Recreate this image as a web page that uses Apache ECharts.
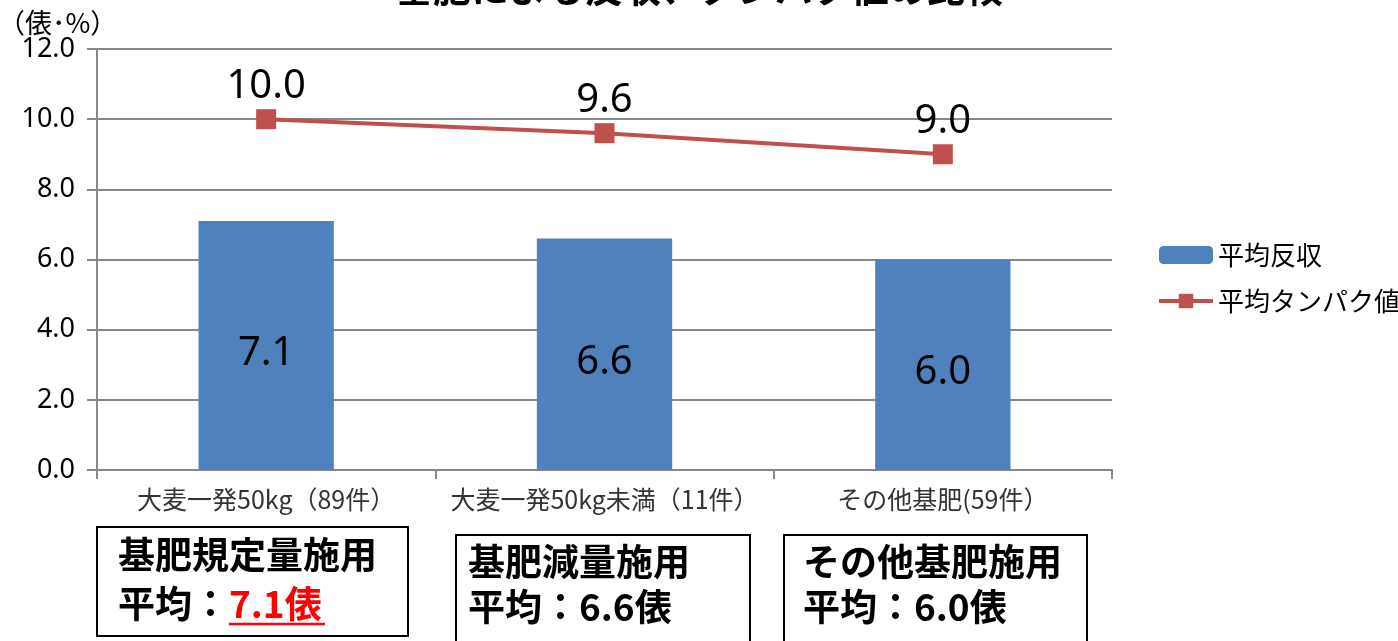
<!DOCTYPE html>
<html>
<head>
<meta charset="utf-8">
<script src="https://cdn.jsdelivr.net/npm/echarts@6/dist/echarts.min.js"></script>
<style>
  html, body { margin: 0; padding: 0; background: #fff; }
  #main { width: 1398px; height: 641px; }
</style>
</head>
<body>
<div id="main"></div>
<script>
const categories = ['大麦一発50kg（89件）', '大麦一発50kg未満（11件）', 'その他基肥(59件）'];
const yieldValues = [7.1, 6.6, 6.0];
const proteinValues = [10.0, 9.6, 9.0];
const seriesNames = ['平均反収', '平均タンパク値'];
const boxTitles = ['基肥規定量施用', '基肥減量施用', 'その他基肥施用'];
const boxAverages = ['7.1俵', '6.6俵', '6.0俵'];

const cjk = '"Noto Sans CJK JP", "Noto Sans", sans-serif';
const num = '"Noto Sans", "Open Sans", sans-serif';

const chartDom = document.getElementById('main');
const myChart = echarts.init(chartDom);

// boxes under the chart
const boxes = [
    { x: 97, y: 527, w: 311, h: 109, tx: 118, ty1: 555, ty2: 604 },
    { x: 456, y: 535, w: 294, h: 120, tx: 468, ty1: 562, ty2: 607 },
    { x: 784, y: 535, w: 303, h: 120, tx: 803, ty1: 562, ty2: 607 }
];

const graphics = [
    {
        type: 'text', left: 'center', top: -31,
        style: { text: '基肥による反収、タンパク値の比較', font: 'bold 38px ' + cjk, fill: '#000' }
    },
    {
        type: 'text', left: -2, top: 9,
        style: { text: '（俵･%）', font: '27px ' + cjk, fill: '#000' }
    }
];

boxes.forEach((b, i) => {
    graphics.push({
        type: 'rect',
        shape: { x: b.x, y: b.y, width: b.w, height: b.h },
        style: { fill: '#fff', stroke: '#000', lineWidth: 2 }
    });
    graphics.push({
        type: 'text', x: b.tx, y: b.ty1,
        style: { text: boxTitles[i], font: 'bold 37px ' + cjk, fill: '#000', verticalAlign: 'middle' }
    });
    graphics.push({
        type: 'text', x: b.tx, y: b.ty2,
        style: {
            text: '平均：{v|' + boxAverages[i] + '}',
            font: 'bold 37px ' + cjk, fill: '#000', verticalAlign: 'middle',
            rich: { v: { font: 'bold 37px ' + cjk, fill: i === 0 ? '#ff0000' : '#000' } }
        }
    });
});
// red underline under the first average
graphics.push({
    type: 'line',
    shape: { x1: 229, y1: 624, x2: 325, y2: 624 },
    style: { stroke: '#ff0000', lineWidth: 2.5 }
});

const option = {
    animation: false,
    grid: { left: 97, right: 286, top: 49, bottom: 171 },
    legend: {
        orient: 'vertical',
        left: 1152,
        top: 237,
        itemWidth: 54,
        itemHeight: 18,
        itemGap: 20,
        lineStyle: { width: 4 },
        textStyle: { fontSize: 26, fontFamily: cjk, color: '#000' },
        data: seriesNames
    },
    xAxis: {
        type: 'category',
        data: categories,
        axisLine: { lineStyle: { color: '#888', width: 2 } },
        axisTick: { show: true, length: 9, lineStyle: { color: '#888', width: 2 } },
        axisLabel: { interval: 0, fontSize: 25, fontFamily: cjk, color: '#333', margin: 17 }
    },
    yAxis: {
        type: 'value',
        min: 0,
        max: 12,
        interval: 2,
        axisLine: { show: true, lineStyle: { color: '#888', width: 2 } },
        axisTick: { show: true, length: 10, lineStyle: { color: '#888', width: 2 } },
        splitLine: { lineStyle: { color: '#888', width: 2 } },
        axisLabel: {
            fontSize: 27, fontFamily: num, color: '#000', margin: 22,
            formatter: v => v.toFixed(1)
        }
    },
    series: [
        {
            name: seriesNames[0],
            type: 'bar',
            data: yieldValues,
            barWidth: '40%',
            itemStyle: { color: '#4F81BD' },
            label: {
                show: true, position: 'inside', offset: [0, 8],
                fontSize: 40, fontFamily: num, color: '#000',
                formatter: p => p.value.toFixed(1)
            }
        },
        {
            name: seriesNames[1],
            type: 'line',
            data: proteinValues,
            symbol: 'rect',
            symbolSize: 20,
            lineStyle: { color: '#C0504D', width: 4 },
            itemStyle: { color: '#C0504D' },
            label: {
                show: true, position: 'top', distance: 3,
                fontSize: 40, fontFamily: num, color: '#000',
                formatter: p => p.value.toFixed(1)
            }
        }
    ],
    graphic: graphics
};

myChart.setOption(option);
</script>
</body>
</html>
